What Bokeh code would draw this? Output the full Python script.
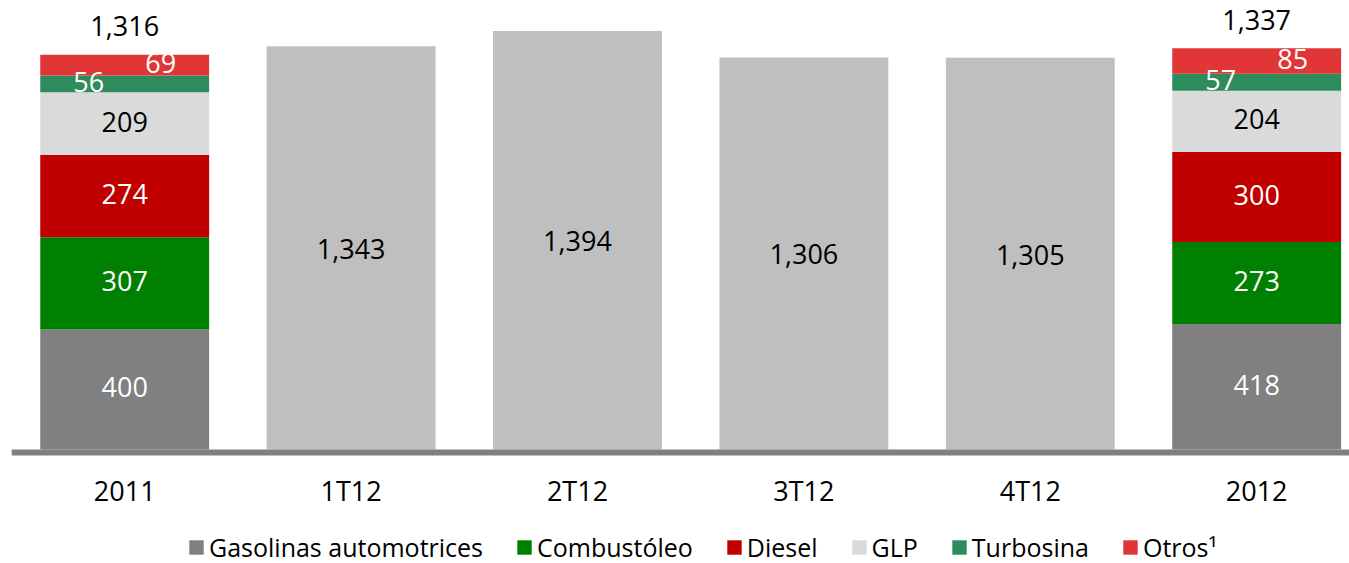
import numpy as np
from bokeh.plotting import figure
from bokeh.models import (ColumnDataSource, Range1d, BoxAnnotation, Legend, LegendItem)
from bokeh.core.properties import value
from bokeh.embed import file_html
from bokeh.resources import INLINE

# ---------------- data ----------------
categories = ["2011", "1T12", "2T12", "3T12", "4T12", "2012"]
stack_cats = ["2011", "2012"]
series_names = ["Gasolinas automotrices", "Combustóleo", "Diesel", "GLP", "Turbosina", "Otros¹"]
gasolinas = [400, 418]
combustoleo = [307, 273]
diesel = [274, 300]
glp = [209, 204]
turbosina = [56, 57]
otros = [69, 85]
stack_totals = [1316, 1337]
quarter_cats = ["1T12", "2T12", "3T12", "4T12"]
quarter_totals = [1343, 1394, 1306, 1305]

# ---------------- styles ----------------
colors = ["#808080", "#008000", "#C00000", "#DADADA", "#2E8B5C", "#E03636"]
label_colors = ["white", "white", "white", "black", "white", "white"]
label_dx = [0, 0, 0, 0, -36, 36]
FONT = "Open Sans"
NUM_SIZE = "27px"
BAR_W = 0.746
PX_PER_UNIT = 0.3002   # vertical scale (pixels per value unit)

xpos = {c: i for i, c in enumerate(categories)}
stack_x = [xpos[c] for c in stack_cats]
quarter_x = [xpos[c] for c in quarter_cats]

FRAME_H = 555
p = figure(frame_width=1338, frame_height=FRAME_H,
           x_range=Range1d(-0.5, 5.41),
           y_range=Range1d(-114 / PX_PER_UNIT, 441 / PX_PER_UNIT),
           output_backend="svg", toolbar_location=None,
           x_axis_location=None, y_axis_location=None,
           min_border_left=11, min_border_right=0, min_border_top=8,
           min_border_bottom=0)
p.outline_line_color = None
p.grid.visible = False
p.background_fill_color = "white"

# baseline band (axis line)
p.add_layout(BoxAnnotation(bottom=-6 / PX_PER_UNIT, top=0, fill_color="#808080",
                           fill_alpha=1.0, line_color=None))

# stacked bars
series = [gasolinas, combustoleo, diesel, glp, turbosina, otros]
keys = ["s%d" % i for i in range(len(series))]
src = ColumnDataSource(dict(x=stack_x, **{k: v for k, v in zip(keys, series)}))
renderers = p.vbar_stack(keys, x="x", width=BAR_W, color=colors, source=src, line_color=None)

# quarter bars
qsrc = ColumnDataSource(dict(x=quarter_x, top=quarter_totals))
p.vbar(x="x", top="top", bottom=0, width=BAR_W, color="#BFBFBF", line_color=None, source=qsrc)

# segment labels
arr = np.array(series, dtype=float)
cum = np.cumsum(arr, axis=0)
mids = cum - arr / 2
lx, ly, lt, lc, ldx = [], [], [], [], []
for si in range(arr.shape[0]):
    for ci, x in enumerate(stack_x):
        lx.append(x); ly.append(mids[si, ci]); lt.append(f"{series[si][ci]:,}")
        lc.append(label_colors[si]); ldx.append(label_dx[si])
lsrc = ColumnDataSource(dict(x=lx, y=ly, text=lt, color=lc, dx=ldx))
p.text(x="x", y="y", text="text", text_color="color", x_offset="dx", y_offset=-2,
       source=lsrc, text_align="center", text_baseline="middle",
       text_font=value(FONT), text_font_size=NUM_SIZE)

# quarter labels (middle of bar)
qlsrc = ColumnDataSource(dict(x=quarter_x, y=[v / 2 for v in quarter_totals],
                              text=[f"{v:,}" for v in quarter_totals]))
p.text(x="x", y="y", text="text", source=qlsrc, text_color="black", y_offset=1,
       text_align="center", text_baseline="middle", text_font=value(FONT),
       text_font_size=NUM_SIZE)

# totals above stacks
tsrc = ColumnDataSource(dict(x=stack_x, y=stack_totals, text=[f"{v:,}" for v in stack_totals]))
p.text(x="x", y="y", text="text", source=tsrc, text_color="black", y_offset=-28,
       text_align="center", text_baseline="middle", text_font=value(FONT),
       text_font_size=NUM_SIZE)

# category labels (below the baseline)
csrc = ColumnDataSource(dict(x=list(range(len(categories))), y=[0] * len(categories),
                             text=categories))
p.text(x="x", y="y", text="text", source=csrc, text_color="black", y_offset=41,
       text_align="center", text_baseline="middle", text_font=value(FONT),
       text_font_size=NUM_SIZE)

# legend
items = [LegendItem(label=n, renderers=[r]) for n, r in zip(series_names, renderers)]
legend = Legend(items=items, orientation="horizontal", location=(176, -1),
                glyph_width=18, glyph_height=18, label_standoff=4, spacing=32,
                padding=0, margin=0, border_line_color=None, background_fill_alpha=0,
                label_text_font=FONT, label_text_font_size="25px",
                label_text_color="black")
p.add_layout(legend, "center")

open("out.html", "w").write(file_html(p, INLINE))
